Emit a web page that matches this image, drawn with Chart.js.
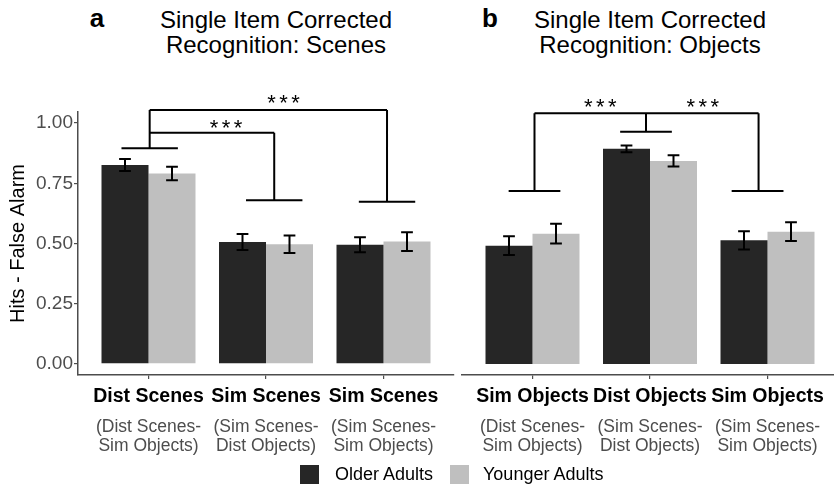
<!DOCTYPE html>
<html>
<head>
<meta charset="utf-8">
<script src="https://cdn.jsdelivr.net/npm/chart.js@4"></script>
<style>
  html, body { margin: 0; padding: 0; width: 834px; height: 488px; overflow: hidden; background: #fff; }
  body { position: relative; font-family: "Liberation Sans", Arial, sans-serif; }
  canvas { position: absolute; top: 0; }
  #chartA { left: 0; }
  #chartB { left: 458px; }
  .tag { position: absolute; top: 3px; font-size: 26px; font-weight: bold; color: #000; width: 30px; text-align: center; }
  .title { position: absolute; top: 7px; font-size: 24px; line-height: 25px; color: #000; text-align: center; width: 320px; }
  .legend { position: absolute; top: 461px; font-size: 18px; line-height: 26px; color: #000; }
  .swatch { position: absolute; width: 19px; height: 19px; top: 465px; }
</style>
</head>
<body>
<div class="tag" style="left:82px">a</div>
<div class="title" style="left:116px">Single Item Corrected<br>Recognition: Scenes</div>
<div class="tag" style="left:475px">b</div>
<div class="title" style="left:490px">Single Item Corrected<br>Recognition: Objects</div>

<canvas id="chartA" width="458" height="488"></canvas>
<canvas id="chartB" width="380" height="488"></canvas>

<div class="swatch" style="left:300px;background:#262626"></div>
<div class="legend" style="left:335px">Older Adults</div>
<div class="swatch" style="left:450px;background:#bfbfbf"></div>
<div class="legend" style="left:483px">Younger Adults</div>

<script>
// panel a: scenes
const categoriesA = ["Dist Scenes", "Sim Scenes", "Sim Scenes"];
const subLabelsA = [["(Dist Scenes-", "Sim Objects)"], ["(Sim Scenes-", "Dist Objects)"], ["(Sim Scenes-", "Sim Objects)"]];
const olderA = [0.826, 0.506, 0.495];
const olderErrA = [0.025, 0.033, 0.031];
const youngerA = [0.791, 0.497, 0.508];
const youngerErrA = [0.028, 0.036, 0.039];

// panel b: objects
const categoriesB = ["Sim Objects", "Dist Objects", "Sim Objects"];
const subLabelsB = [["(Dist Scenes-", "Sim Objects)"], ["(Sim Scenes-", "Dist Objects)"], ["(Sim Scenes-", "Sim Objects)"]];
const olderB = [0.491, 0.893, 0.513];
const olderErrB = [0.039, 0.014, 0.038];
const youngerB = [0.541, 0.843, 0.549];
const youngerErrB = [0.041, 0.023, 0.039];

const yTicks = [0, 0.25, 0.5, 0.75, 1];
const groupNames = ["Older Adults", "Younger Adults"];

// significance brackets, in (category, value) units
const bracketsA = [
    [[-0.23, 0.895], [0.25, 0.895]],
    [[0.01, 0.895], [0.01, 1.054]],
    [[0.01, 0.96], [1.07, 0.96]],
    [[1.07, 0.96], [1.07, 0.68]],
    [[0.83, 0.68], [1.31, 0.68]],
    [[0.01, 1.054], [2.03, 1.054]],
    [[2.03, 1.054], [2.03, 0.673]],
    [[1.79, 0.673], [2.27, 0.673]]
];
const starsA = [[0.66, 1.0], [1.15, 1.104]];

const bracketsB = [
    [[0.017, 1.041], [1.924, 1.041]],
    [[0.017, 1.041], [0.017, 0.718]],
    [[-0.203, 0.718], [0.237, 0.718]],
    [[0.966, 1.041], [0.966, 0.964]],
    [[0.746, 0.964], [1.186, 0.964]],
    [[1.924, 1.041], [1.924, 0.718]],
    [[1.695, 0.718], [2.136, 0.718]]
];
const starsB = [[0.576, 1.088], [1.449, 1.088]];

const FONT = "'Liberation Sans', Arial, sans-serif";

function toPoints(values) {
    return values.map((v, i) => ({ x: i, y: v }));
}

const extrasPlugin = {
    id: "extras",
    afterDatasetsDraw(chart, args, opts) {
        const ctx = chart.ctx;
        const xs = chart.scales.x;
        const ys = chart.scales.y;
        ctx.save();
        ctx.strokeStyle = "#000";
        ctx.lineWidth = 2;
        ctx.lineCap = "butt";

        // error bars
        opts.errors.forEach((errs, di) => {
            const meta = chart.getDatasetMeta(di);
            const vals = chart.data.datasets[di].data;
            meta.data.forEach((bar, i) => {
                const hi = ys.getPixelForValue(vals[i].y + errs[i]);
                const lo = ys.getPixelForValue(vals[i].y - errs[i]);
                const cap = bar.width * 0.125;
                ctx.beginPath();
                ctx.moveTo(bar.x, hi); ctx.lineTo(bar.x, lo);
                ctx.moveTo(bar.x - cap, hi); ctx.lineTo(bar.x + cap, hi);
                ctx.moveTo(bar.x - cap, lo); ctx.lineTo(bar.x + cap, lo);
                ctx.stroke();
            });
        });

        // brackets
        ctx.beginPath();
        opts.brackets.forEach(seg => {
            ctx.moveTo(xs.getPixelForValue(seg[0][0]), ys.getPixelForValue(seg[0][1]));
            ctx.lineTo(xs.getPixelForValue(seg[1][0]), ys.getPixelForValue(seg[1][1]));
        });
        ctx.stroke();

        // stars
        ctx.fillStyle = "#000";
        ctx.font = "22px " + FONT;
        ctx.textAlign = "center";
        ctx.textBaseline = "alphabetic";
        opts.stars.forEach(s => {
            const px = xs.getPixelForValue(s[0]);
            const py = ys.getPixelForValue(s[1]) + 12;
            for (let k = -1; k <= 1; k++) ctx.fillText("*", px + k * 12, py);
        });

        // category labels
        opts.labels.forEach((lab, i) => {
            const px = xs.getPixelForValue(i);
            ctx.fillStyle = "#000";
            ctx.font = "bold 19.5px " + FONT;
            ctx.fillText(lab, px, 402);
            ctx.fillStyle = "#4d4d4d";
            ctx.font = "17.5px " + FONT;
            ctx.fillText(opts.subLabels[i][0], px, 432);
            ctx.fillText(opts.subLabels[i][1], px, 451);
        });
        ctx.restore();
    }
};

function makeChart(id, older, younger, olderErr, youngerErr, labels, subLabels, brackets, stars, showY) {
    return new Chart(document.getElementById(id), {
        type: "bar",
        data: {
            datasets: [
                { label: groupNames[0], data: toPoints(older), backgroundColor: "#262626", borderWidth: 0 },
                { label: groupNames[1], data: toPoints(younger), backgroundColor: "#bfbfbf", borderWidth: 0 }
            ]
        },
        options: {
            responsive: false,
            animation: false,
            barPercentage: 1,
            categoryPercentage: 0.8,
            layout: { padding: showY ? { left: 0, top: 112, right: 4, bottom: 113 } : { left: 4, top: 112, right: 0, bottom: 113 } },
            plugins: {
                legend: { display: false },
                tooltip: { enabled: false },
                extras: { errors: [olderErr, youngerErr], brackets: brackets, stars: stars, labels: labels, subLabels: subLabels }
            },
            scales: {
                x: {
                    type: "linear",
                    offset: false,
                    min: -0.6,
                    max: 2.6,
                    afterBuildTicks: s => { s.ticks = [0, 1, 2].map(v => ({ value: v })); },
                    afterFit: s => { s.height = 0; },
                    ticks: { display: false },
                    grid: { offset: false, drawOnChartArea: false, drawTicks: true, tickLength: 4, color: "#4d4d4d", lineWidth: 1.2 },
                    border: { display: true, color: "#4d4d4d", width: 1.5 }
                },
                y: {
                    display: showY,
                    min: -0.046,
                    max: 1.046,
                    afterBuildTicks: s => { s.ticks = yTicks.map(v => ({ value: v })); },
                    afterFit: s => { s.width = showY ? 78 : 0; },
                    ticks: { color: "#4d4d4d", font: { size: 19, family: FONT }, padding: 1, callback: v => v.toFixed(2) },
                    grid: { drawOnChartArea: false, drawTicks: true, tickLength: 4, color: "#4d4d4d", lineWidth: 1.2 },
                    border: { display: true, color: "#4d4d4d", width: 1.5 },
                    title: { display: true, text: "Hits - False Alarm", color: "#000", font: { size: 20, family: FONT }, padding: { top: 6, bottom: 0 } }
                }
            }
        },
        plugins: [extrasPlugin]
    });
}

makeChart("chartA", olderA, youngerA, olderErrA, youngerErrA, categoriesA, subLabelsA, bracketsA, starsA, true);
makeChart("chartB", olderB, youngerB, olderErrB, youngerErrB, categoriesB, subLabelsB, bracketsB, starsB, false);
</script>
</body>
</html>
